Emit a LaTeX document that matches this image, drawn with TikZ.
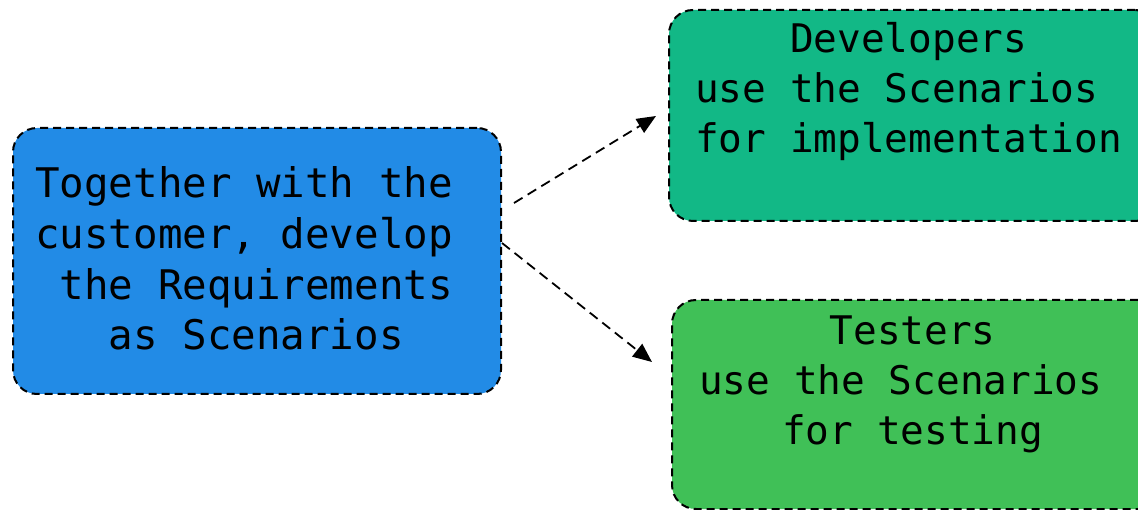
\documentclass[tikz,border=0pt]{standalone}
\usepackage{fontspec}
\setmonofont{DejaVu Sans Mono}
\usetikzlibrary{arrows.meta}
\definecolor{cblue}{HTML}{228BE6}
\definecolor{cteal}{HTML}{12B886}
\definecolor{cgreen}{HTML}{40C057}
\newcommand\ind[1]{\settowidth{\dimen0}{x}\hspace*{#1\dimen0}}
\tikzset{
  box/.style={draw=black, dash pattern=on 8pt off 5pt, line width=2pt, rounded corners=24pt, anchor=north west, inner sep=0pt},
  lblbig/.style={inner sep=0pt, anchor=base west, align=left, font=\ttfamily\fontsize{40.8}{50.7}\selectfont},
  lbl/.style={inner sep=0pt, anchor=base west, align=left, font=\ttfamily\fontsize{39.4}{50.2}\selectfont},
  conn/.style={dash pattern=on 10pt off 6pt, line width=1.8pt, -{Triangle[length=19pt,width=16pt]}}
}
\begin{document}
\begin{tikzpicture}[x=1pt,y=-1pt]
\useasboundingbox (0,0) rectangle (1138,510);
\node[box, fill=cblue, minimum width=488pt, minimum height=266pt] (b1) at (12,127) {};
\node[box, fill=cteal, minimum width=490pt, minimum height=211pt] (b2) at (668,9) {};
\node[box, fill=cgreen, minimum width=490pt, minimum height=209pt] (b3) at (671,299) {};
\node[lblbig] (t1) at (35,350) {Together with the\\customer, develop\\\ind{1}the Requirements\\\ind{3}as Scenarios};
\node[lbl] (t2) at (695,153) {\ind{4}Developers\\use the Scenarios\\for implementation};
\node[lbl] (t3) at (699,445) {\ind{5.5}Testers\\use the Scenarios\\\ind{3.5}for testing};
\coordinate (a1s) at (514,203);
\coordinate (a1e) at (656,116);
\coordinate (a2s) at (502,243);
\coordinate (a2e) at (652,362);
\draw[conn] (a1s) -- (a1e);
\draw[conn] (a2s) -- (a2e);
\end{tikzpicture}
\end{document}
